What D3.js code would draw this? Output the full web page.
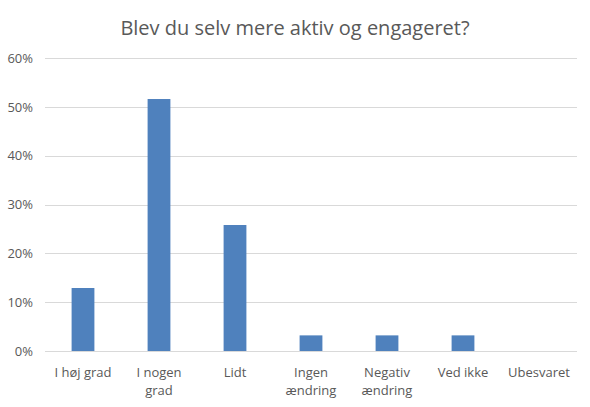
<!DOCTYPE html>
<html>
<head>
<meta charset="utf-8">
<script src="https://cdn.jsdelivr.net/npm/d3@7"></script>
<style>
  body { margin: 0; background: #fff; }
  text { font-family: "Open Sans", "Liberation Sans", sans-serif; fill: #595959; }
</style>
</head>
<body>
<div id="chart"></div>
<script>
// answers (share of respondents)
const categories = ["I høj grad", "I nogen grad", "Lidt", "Ingen ændring", "Negativ ændring", "Ved ikke", "Ubesvaret"]
const labelLines = [["I høj grad"], ["I nogen", "grad"], ["Lidt"], ["Ingen", "ændring"], ["Negativ", "ændring"], ["Ved ikke"], ["Ubesvaret"]]
const values = [0.129, 0.516, 0.258, 0.032, 0.032, 0.032, 0]
const yTicks = [0, 0.1, 0.2, 0.3, 0.4, 0.5, 0.6]

const width = 590
const height = 407
const marginLeft = 45
const marginRight = 13
const marginTop = 58
const marginBottom = 56

const svg = d3.select("#chart").append("svg")
    .attr("width", width)
    .attr("height", height)

const xScale = d3.scaleBand()
    .domain(categories)
    .range([marginLeft, width - marginRight])
    .paddingInner(0.7)
    .paddingOuter(0.35)

const yScale = d3.scaleLinear()
    .domain([0, 0.6])
    .range([height - marginBottom, marginTop])

// title
svg.append("text")
    .attr("x", width / 2)
    .attr("y", 35)
    .attr("text-anchor", "middle")
    .style("font-size", "20px")
    .text("Blev du selv mere aktiv og engageret?")

// gridlines
svg.append("g")
    .selectAll("line")
    .data(yTicks)
    .join("line")
    .attr("x1", marginLeft)
    .attr("x2", width - marginRight)
    .attr("y1", d => Math.round(yScale(d)) + 0.5)
    .attr("y2", d => Math.round(yScale(d)) + 0.5)
    .attr("stroke", "#d9d9d9")
    .attr("stroke-width", 1)

// y axis labels
const yAxis = svg.append("g")
    .attr("transform", "translate(" + (marginLeft - 12) + ",0)")
    .call(d3.axisLeft(yScale).tickValues(yTicks).tickFormat(d3.format(".0%")).tickSize(0).tickPadding(0))
yAxis.select(".domain").remove()
yAxis.selectAll("text").style("font-size", "13px").attr("fill", "#595959")

// bars
svg.append("g")
    .selectAll("rect")
    .data(values)
    .join("rect")
    .attr("x", (d, i) => xScale(categories[i]))
    .attr("width", xScale.bandwidth())
    .attr("y", d => yScale(d))
    .attr("height", d => yScale(0) - yScale(d))
    .attr("fill", "#4f81bd")

// x labels
const xLabels = svg.append("g")
    .selectAll("text")
    .data(labelLines)
    .join("text")
    .attr("text-anchor", "middle")
    .attr("x", (d, i) => xScale(categories[i]) + xScale.bandwidth() / 2)
    .attr("y", yScale(0) + 26)
    .style("font-size", "13px")

xLabels.selectAll("tspan")
    .data((d, i) => d.map(t => ({t, x: xScale(categories[i]) + xScale.bandwidth() / 2})))
    .join("tspan")
    .attr("x", d => d.x)
    .attr("dy", (d, j) => j === 0 ? 0 : 18)
    .text(d => d.t)
</script>
</body>
</html>
